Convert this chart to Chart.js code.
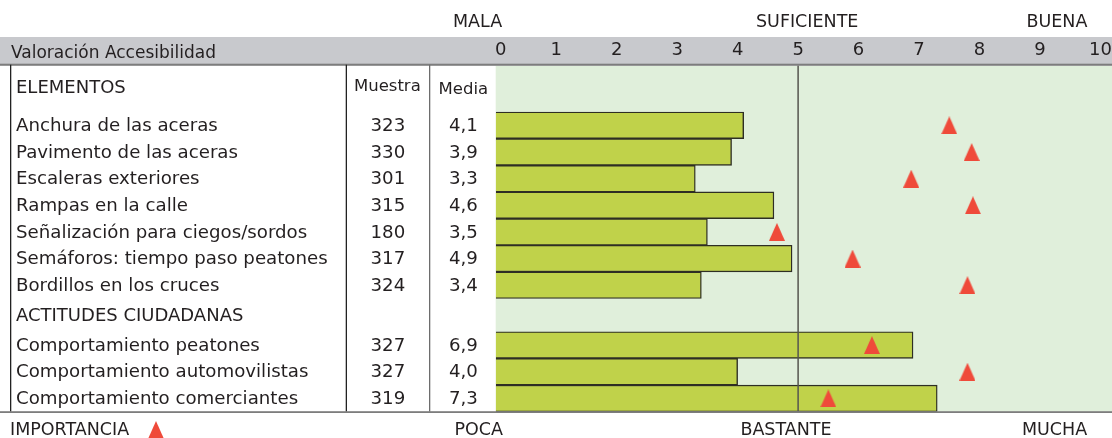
<!DOCTYPE html>
<html>
<head>
<meta charset="utf-8">
<script src="https://cdn.jsdelivr.net/npm/chart.js@4"></script>
<style>
  html, body { margin: 0; padding: 0; background: #fff; }
  #wrap { width: 1112px; height: 438px; position: relative; }
</style>
</head>
<body>
<div id="wrap"><canvas id="chart"></canvas></div>
<script>
//////// datos ////////
const secciones = ["ELEMENTOS", "ACTITUDES CIUDADANAS"];
const itemsPorSeccion = [7, 3];
const elementos = [
  "Anchura de las aceras",
  "Pavimento de las aceras",
  "Escaleras exteriores",
  "Rampas en la calle",
  "Señalización para ciegos/sordos",
  "Semáforos: tiempo paso peatones",
  "Bordillos en los cruces",
  "Comportamiento peatones",
  "Comportamiento automovilistas",
  "Comportamiento comerciantes",
];
const muestra = [323, 330, 301, 315, 180, 317, 324, 327, 327, 319];
const media = [4.1, 3.9, 3.3, 4.6, 3.5, 4.9, 3.4, 6.9, 4.0, 7.3];
// importancia (triangulos), leida sobre la misma escala 0-10
const importancia = [7.5, 7.87, 6.87, 7.89, 4.65, 5.9, 7.8, 6.22, 7.8, 5.5];
const ticksX = ["0", "1", "2", "3", "4", "5", "6", "7", "8", "9", "10"];
const valoracion = ["MALA", "SUFICIENTE", "BUENA"];
const valoracionPos = [-0.3, 5.15, 9.28];
const nivelesImportancia = ["POCA", "BASTANTE", "MUCHA"];
const nivelesPos = [-0.28, 4.8, 9.24];
const aprobado = 5;

//////// layout ////////
const FONT = '"DejaVu Sans", sans-serif';
const TXT = "#231f20";
const HEAD_ROWS = 1.74;   // alto de la fila ELEMENTOS, en filas
const GAP_ROWS = 1.25;    // alto de la fila ACTITUDES CIUDADANAS
const COL_MUESTRA = 345.7;
const COL_MEDIA = 429;
const TABLE_LEFT = 10;

// posicion vertical (en filas) de cada elemento
const filas = [];
let pos = 0;
itemsPorSeccion.forEach((n, s) => {
  if (s > 0) pos += GAP_ROWS;
  for (let k = 0; k < n; k++) { filas.push(pos); pos += 1; }
});
const seccionPos = [-0.5 - HEAD_ROWS / 2 - 0.05, itemsPorSeccion[0] - 0.5 + GAP_ROWS / 2];
const yMin = -0.5 - HEAD_ROWS;
const yMax = filas[filas.length - 1] + 0.5;

// triangulo rojo
const tri = document.createElement("canvas");
tri.width = 16; tri.height = 18;
(function () {
  const c = tri.getContext("2d");
  c.fillStyle = "#ef4a3a";
  c.beginPath();
  c.moveTo(8, 0); c.lineTo(16, 18); c.lineTo(0, 18); c.closePath();
  c.fill();
})();

//////// tabla y cabeceras ////////
const tabla = {
  id: "tabla",
  beforeDatasetsDraw(chart) {
    const { ctx, chartArea: a, scales: { x, y } } = chart;
    ctx.save();
    // fondo verde
    ctx.fillStyle = "#e0efdb";
    ctx.fillRect(a.left, a.top, chart.width - a.left, a.bottom - a.top);
    // banda gris
    ctx.fillStyle = "#c8c9cd";
    ctx.fillRect(0, 37, chart.width, a.top - 37);
    ctx.fillStyle = "#7d7d7d";
    ctx.fillRect(0, a.top - 2, chart.width, 2);

    ctx.fillStyle = TXT;
    ctx.textBaseline = "middle";
    ctx.font = "17px " + FONT;
    ctx.textAlign = "left";
    ctx.fillText("Valoración Accesibilidad", TABLE_LEFT + 1, 53.5);
    ctx.font = "18px " + FONT;
    ctx.textAlign = "center";
    ticksX.forEach((t, i) => ctx.fillText(t, x.getPixelForValue(i) + (i === 0 ? 5 : 0), 50.5));
    ctx.font = "17.5px " + FONT;
    valoracion.forEach((t, i) => ctx.fillText(t, x.getPixelForValue(valoracionPos[i]), 22));

    // lineas de la tabla
    ctx.fillStyle = "#222";
    ctx.fillRect(TABLE_LEFT, a.top - 1, 1.3, a.bottom - a.top + 1);
    ctx.fillRect(COL_MUESTRA, a.top - 1, 1.3, a.bottom - a.top + 1);
    ctx.fillStyle = "#6d6d6d";
    ctx.fillRect(COL_MEDIA, a.top - 1, 1.3, a.bottom - a.top + 1);

    // textos
    ctx.fillStyle = TXT;
    ctx.font = "18px " + FONT;
    ctx.textAlign = "left";
    secciones.forEach((s, i) => ctx.fillText(s, 16, y.getPixelForValue(seccionPos[i]) + 1));
    ctx.font = "16.5px " + FONT;
    ctx.textAlign = "center";
    ctx.fillText("Muestra", (COL_MUESTRA + COL_MEDIA) / 2, y.getPixelForValue(seccionPos[0]) - 1);
    ctx.fillText("Media", (COL_MEDIA + a.left) / 2 + 1, y.getPixelForValue(seccionPos[0]) + 2);
    ctx.font = "18.2px " + FONT;
    elementos.forEach((e, i) => {
      const py = y.getPixelForValue(filas[i]) + 1;
      ctx.textAlign = "left";
      ctx.fillText(e, 16, py);
      ctx.textAlign = "center";
      ctx.fillText(String(muestra[i]), (COL_MUESTRA + COL_MEDIA) / 2 + 0.5, py);
      ctx.fillText(media[i].toFixed(1).replace(".", ","), (COL_MEDIA + a.left) / 2 + 1, py);
    });

    // pie: importancia
    ctx.font = "17.5px " + FONT;
    ctx.textAlign = "left";
    ctx.fillText("IMPORTANCIA", TABLE_LEFT, 430.5);
    ctx.drawImage(tri, 148, 421);
    ctx.textAlign = "center";
    nivelesImportancia.forEach((t, i) => ctx.fillText(t, x.getPixelForValue(nivelesPos[i]), 430.5));
    ctx.restore();
  },
  afterDatasetsDraw(chart) {
    const { ctx, chartArea: a, scales: { x } } = chart;
    ctx.save();
    const px = x.getPixelForValue(aprobado);
    ctx.fillStyle = "#55554f";
    ctx.fillRect(px - 0.75, a.top, 1.5, a.bottom - a.top);
    ctx.fillStyle = "#7d7d7d";
    ctx.fillRect(0, a.bottom - 0.5, chart.width, 1.8);
    ctx.restore();
  },
};

new Chart(document.getElementById("chart"), {
  type: "bar",
  plugins: [tabla],
  data: {
    datasets: [
      {
        type: "scatter",
        order: 0,
        data: filas.map((r, i) => ({ x: importancia[i], y: r })),
        pointStyle: tri,
        pointRadius: 9,
        clip: false,
      },
      {
        type: "bar",
        order: 1,
        data: filas.map((r, i) => ({ x: media[i], y: r })),
        backgroundColor: "#c0d24a",
        borderColor: "#2e2e24",
        borderWidth: 1.4,
        barPercentage: 1,
        categoryPercentage: 1,
      },
    ],
  },
  options: {
    indexAxis: "y",
    responsive: true,
    maintainAspectRatio: false,
    animation: false,
    layout: { autoPadding: false, padding: { left: 495.7, top: 65.7, bottom: 26.3, right: 0 } },
    scales: {
      x: {
        type: "linear", min: 0, max: 10.19, offset: false, display: false,
        afterBuildTicks: (s) => { s.ticks = ticksX.map((t, i) => ({ value: i })); },
      },
      y: {
        type: "linear", min: yMin, max: yMax, reverse: true, offset: false, display: false,
        afterBuildTicks: (s) => { s.ticks = filas.map((v) => ({ value: v })); },
      },
    },
    plugins: {
      legend: { display: false },
      tooltip: { enabled: false },
    },
  },
});
</script>
</body>
</html>
